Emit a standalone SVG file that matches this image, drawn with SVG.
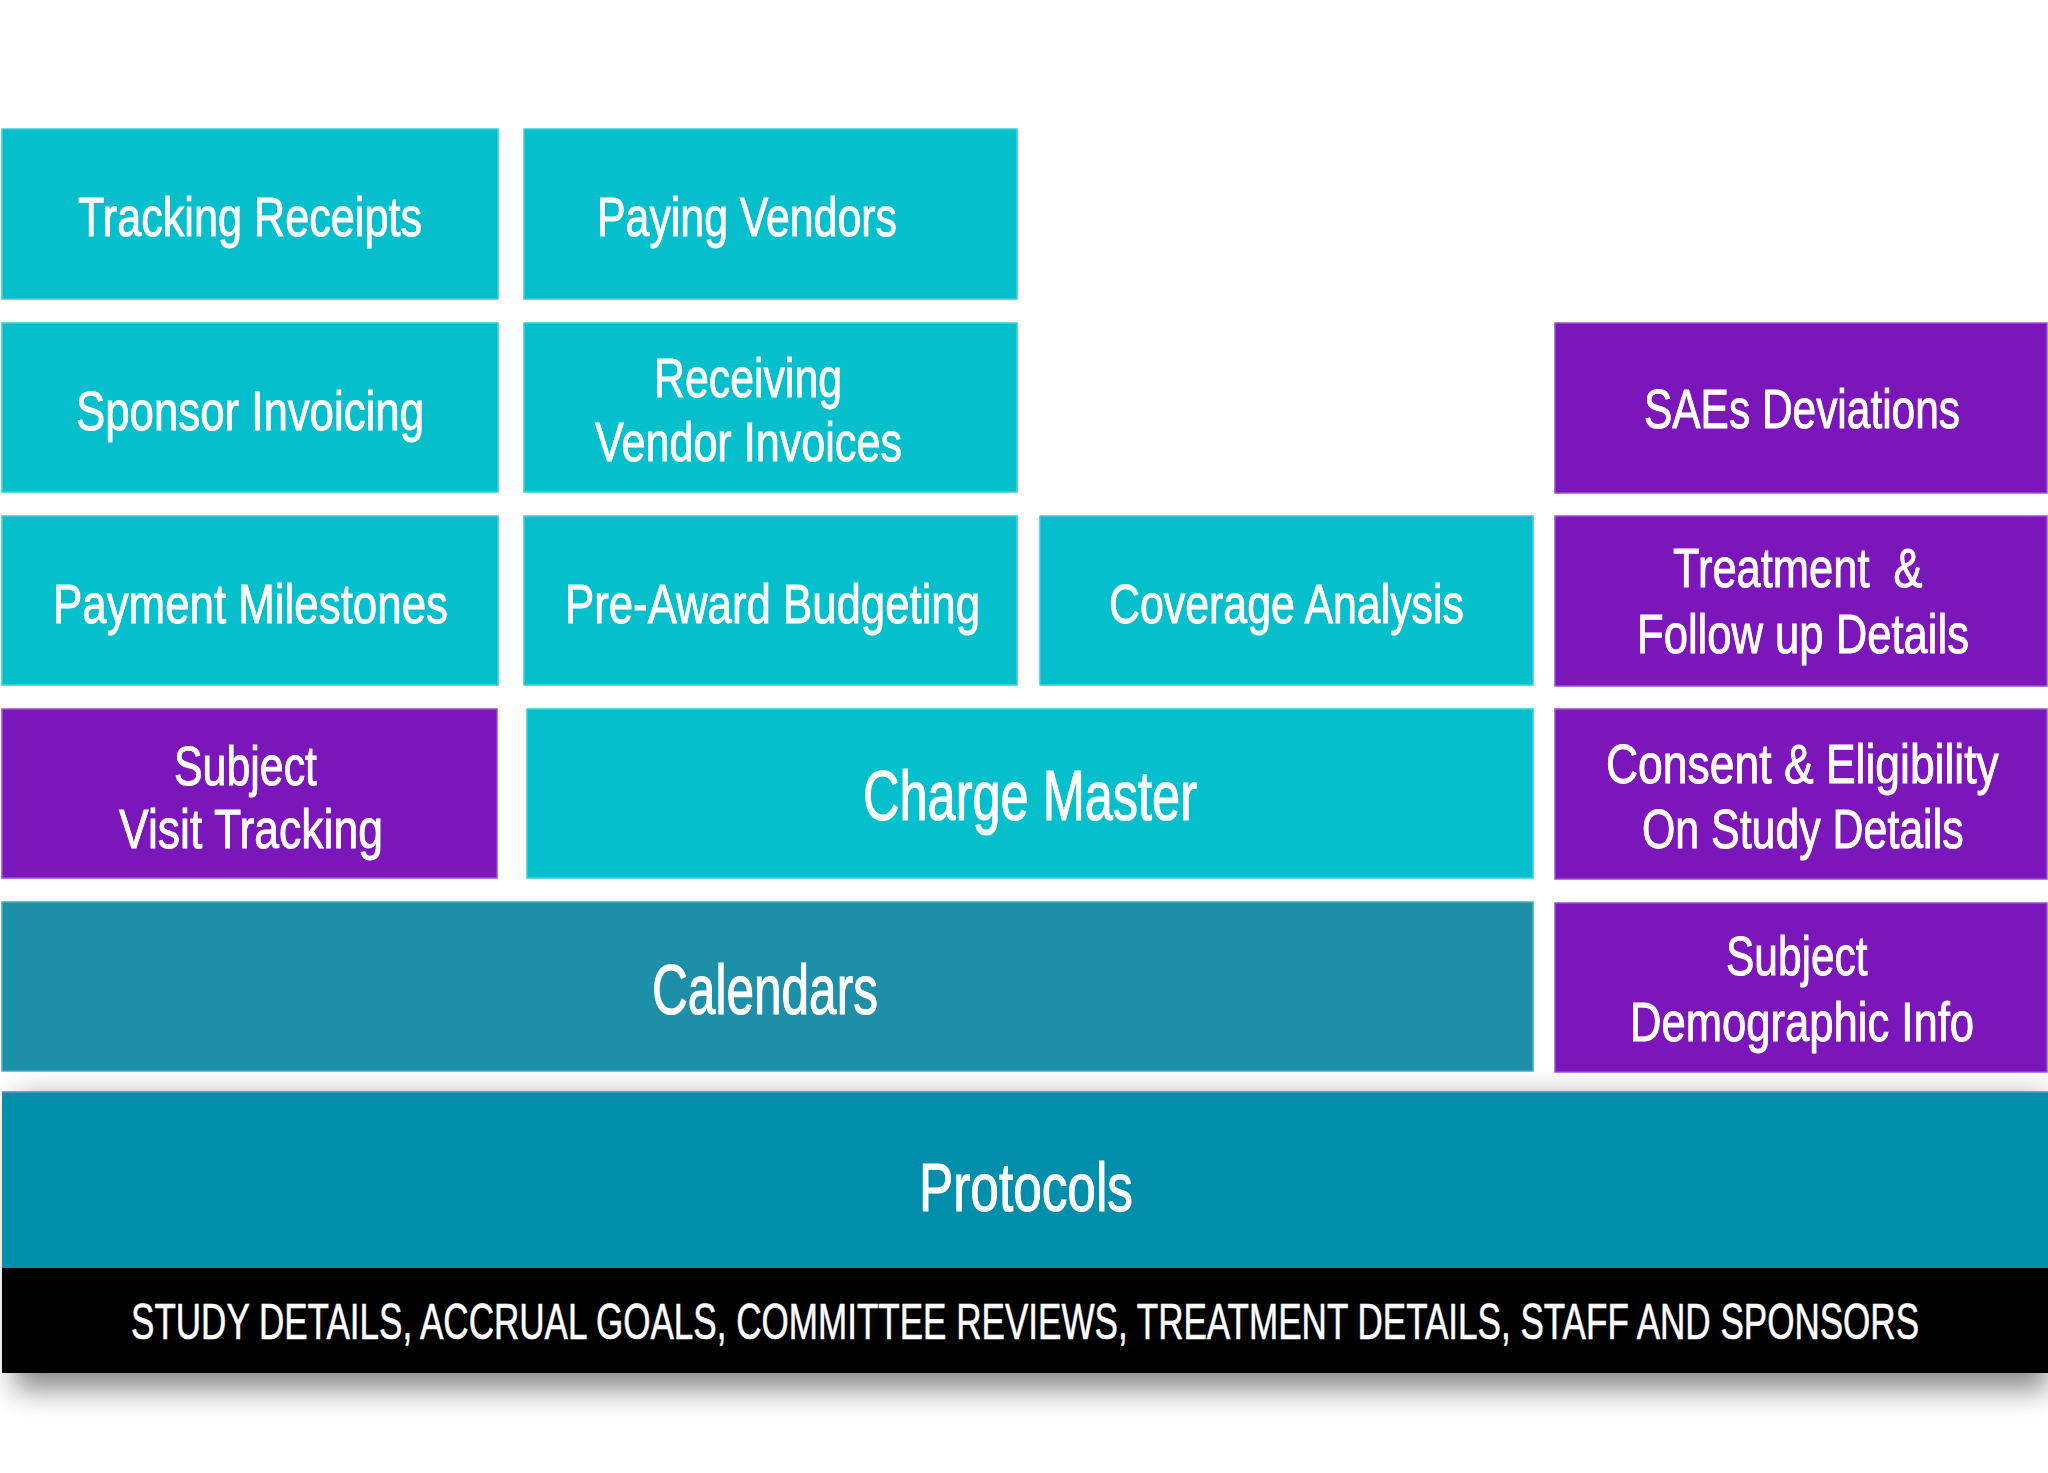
<svg xmlns="http://www.w3.org/2000/svg" width="2048" height="1473" viewBox="0 0 2048 1473">
<defs>
<style>
.cy{fill:#06bfcd;stroke:#3ccdd8;stroke-width:1.5}
.pu{fill:#7b16ba;stroke:#9a4fd0;stroke-width:1.5}
.ca{fill:#1e8fa8;stroke:#4aa8bd;stroke-width:1.5}
.pr{fill:#018eaa}
.bk{fill:#000}
text{font-family:"Liberation Sans","Arial",sans-serif;fill:#fff;stroke:#fff;stroke-width:0.9px;font-size:56px}
.big{font-size:70px;stroke-width:1.1px}
.small{font-size:50px;stroke-width:0.6px}
</style>
<filter id="sh" x="-5%" y="-30%" width="110%" height="160%">
<feGaussianBlur stdDeviation="14"/>
</filter>
</defs>
<rect width="2048" height="1473" fill="#fff"/>

<g id="base">
<rect x="14" y="1098" width="2034" height="292" fill="#000" opacity="0.45" filter="url(#sh)"/>
<rect class="pr" x="2" y="1091" width="2046" height="177"/>
<rect x="2" y="1091" width="2046" height="1.5" fill="#5ab4c8"/>
<rect class="bk" x="2" y="1268" width="2046" height="105"/>
</g>

<g id="node-tracking-receipts">
<rect class="cy" x="2" y="129" width="496" height="170"/>
<text x="78" y="236" textLength="344" lengthAdjust="spacingAndGlyphs">Tracking Receipts</text>
</g>
<g id="node-paying-vendors">
<rect class="cy" x="524" y="129" width="493" height="170"/>
<text x="597" y="236" textLength="300" lengthAdjust="spacingAndGlyphs">Paying Vendors</text>
</g>

<g id="node-sponsor-invoicing">
<rect class="cy" x="2" y="323" width="496" height="169"/>
<text x="76" y="430" textLength="348" lengthAdjust="spacingAndGlyphs">Sponsor Invoicing</text>
</g>
<g id="node-receiving-vendor-invoices">
<rect class="cy" x="524" y="323" width="493" height="169"/>
<text x="654" y="397" textLength="188" lengthAdjust="spacingAndGlyphs">Receiving</text>
<text x="595" y="461" textLength="307" lengthAdjust="spacingAndGlyphs">Vendor Invoices</text>
</g>
<g id="node-saes-deviations">
<rect class="pu" x="1555" y="323" width="492" height="170"/>
<text transform="translate(1644 0) scale(0.8 1)" x="0" y="428" textLength="395" lengthAdjust="spacingAndGlyphs">SAEs Deviations</text>
</g>

<g id="node-payment-milestones">
<rect class="cy" x="2" y="516" width="496" height="169"/>
<text x="53" y="623" textLength="395" lengthAdjust="spacingAndGlyphs">Payment Milestones</text>
</g>
<g id="node-pre-award-budgeting">
<rect class="cy" x="524" y="516" width="493" height="169"/>
<text x="565" y="623" textLength="415" lengthAdjust="spacingAndGlyphs">Pre-Award Budgeting</text>
</g>
<g id="node-coverage-analysis">
<rect class="cy" x="1040" y="516" width="493" height="169"/>
<text x="1109" y="623" textLength="355" lengthAdjust="spacingAndGlyphs">Coverage Analysis</text>
</g>
<g id="node-treatment-follow-up">
<rect class="pu" x="1555" y="516" width="492" height="170"/>
<text transform="translate(1673 0) scale(0.8 1)" x="0" y="587" textLength="312" lengthAdjust="spacingAndGlyphs" xml:space="preserve">Treatment  &amp;</text>
<text transform="translate(1637 0) scale(0.8 1)" x="0" y="653" textLength="415" lengthAdjust="spacingAndGlyphs">Follow up Details</text>
</g>

<g id="node-subject-visit-tracking">
<rect class="pu" x="2" y="709" width="495" height="169"/>
<text x="174" y="785" textLength="143" lengthAdjust="spacingAndGlyphs">Subject</text>
<text x="119" y="848" textLength="264" lengthAdjust="spacingAndGlyphs">Visit Tracking</text>
</g>
<g id="node-charge-master">
<rect class="cy" x="527" y="709" width="1006" height="169"/>
<text class="big" x="863" y="820" textLength="334" lengthAdjust="spacingAndGlyphs">Charge Master</text>
</g>
<g id="node-consent-eligibility">
<rect class="pu" x="1555" y="709" width="492" height="170"/>
<text transform="translate(1606 0) scale(0.8 1)" x="0" y="783" textLength="491" lengthAdjust="spacingAndGlyphs">Consent &amp; Eligibility</text>
<text transform="translate(1642 0) scale(0.8 1)" x="0" y="848" textLength="402" lengthAdjust="spacingAndGlyphs">On Study Details</text>
</g>

<g id="node-calendars">
<rect class="ca" x="2" y="902" width="1531" height="169"/>
<text class="big" x="652" y="1014" textLength="226" lengthAdjust="spacingAndGlyphs">Calendars</text>
</g>
<g id="node-subject-demographic">
<rect class="pu" x="1555" y="903" width="492" height="169"/>
<text transform="translate(1726 0) scale(0.8 1)" x="0" y="975" textLength="177" lengthAdjust="spacingAndGlyphs">Subject</text>
<text transform="translate(1630 0) scale(0.8 1)" x="0" y="1041" textLength="430" lengthAdjust="spacingAndGlyphs">Demographic Info</text>
</g>

<g id="node-protocols">
<text class="big" x="919" y="1211" textLength="214" lengthAdjust="spacingAndGlyphs" style="font-size:68px">Protocols</text>
</g>
<g id="node-study-details">
<text class="small" transform="translate(131 0) scale(0.62 1)" x="0" y="1339" textLength="2884" lengthAdjust="spacingAndGlyphs">STUDY DETAILS, ACCRUAL GOALS, COMMITTEE REVIEWS, TREATMENT DETAILS, STAFF AND SPONSORS</text>
</g>

<g id="connectors"></g>
</svg>
